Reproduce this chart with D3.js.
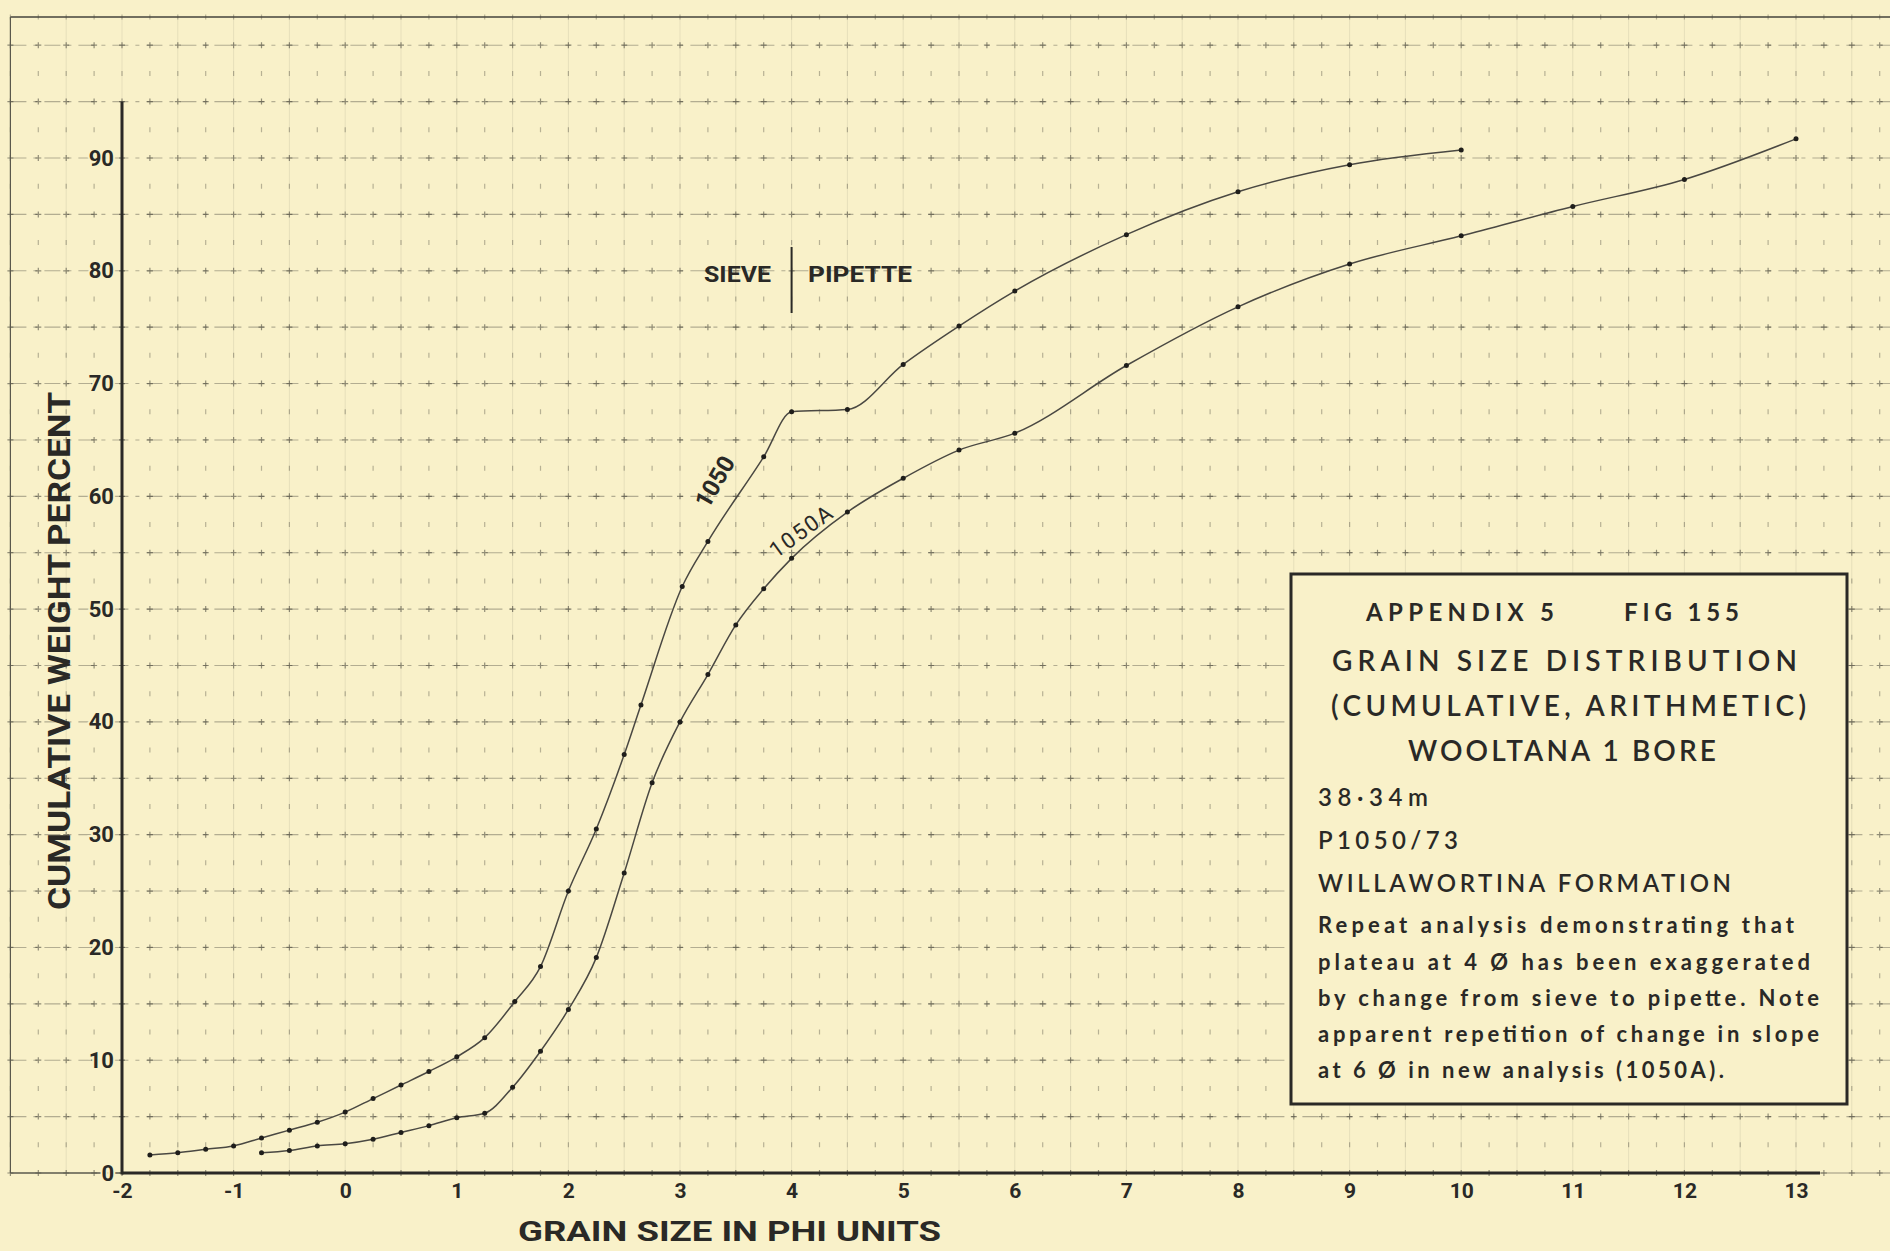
<!DOCTYPE html>
<html>
<head>
<meta charset="utf-8">
<script src="https://cdn.jsdelivr.net/npm/d3@7"></script>
<style>
  body { margin: 0; background: #f8f0c8; }
  svg { display: block; }
</style>
</head>
<body>
<svg id="chart"></svg>
<script>
// sample 1050 (sieve + pipette)
const phi1050 = [-1.75, -1.5, -1.25, -1, -0.75, -0.5, -0.25, 0, 0.25, 0.5, 0.75, 1, 1.25, 1.52, 1.75, 2, 2.25, 2.5, 2.65, 3.02, 3.25, 3.75, 4, 4.5, 5, 5.5, 6, 7, 8, 9, 10];
const pct1050 = [1.6, 1.8, 2.1, 2.4, 3.1, 3.8, 4.5, 5.4, 6.6, 7.8, 9.0, 10.3, 12.0, 15.2, 18.3, 25.0, 30.5, 37.1, 41.5, 52.0, 56.0, 63.5, 67.5, 67.7, 71.7, 75.1, 78.2, 83.2, 87.0, 89.4, 90.7];

// repeat analysis 1050A
const phi1050A = [-0.75, -0.5, -0.25, 0, 0.25, 0.5, 0.75, 1, 1.25, 1.5, 1.75, 2, 2.25, 2.5, 2.75, 3, 3.25, 3.5, 3.75, 4, 4.5, 5, 5.5, 6, 7, 8, 9, 10, 11, 12, 13];
const pct1050A = [1.8, 2.0, 2.4, 2.6, 3.0, 3.6, 4.2, 4.9, 5.3, 7.6, 10.8, 14.5, 19.1, 26.6, 34.6, 40.0, 44.2, 48.6, 51.8, 54.5, 58.6, 61.6, 64.1, 65.6, 71.6, 76.8, 80.6, 83.1, 85.7, 88.1, 91.7];

const xTicks = [-2, -1, 0, 1, 2, 3, 4, 5, 6, 7, 8, 9, 10, 11, 12, 13];
const yTicks = [0, 10, 20, 30, 40, 50, 60, 70, 80, 90];

const noteHeads = ['APPENDIX 5', 'FIG 155', 'GRAIN SIZE DISTRIBUTION', '(CUMULATIVE, ARITHMETIC)', 'WOOLTANA 1 BORE'];
const noteFacts = ['38·34m', 'P1050/73', 'WILLAWORTINA FORMATION'];
const noteText = [
  'Repeat analysis demonstrating that',
  'plateau at 4 Ø has been exaggerated',
  'by change from sieve to pipette. Note',
  'apparent repetition of change in slope',
  'at 6 Ø in new analysis (1050A).'
];

const W = 1890, H = 1251;
const bg = '#f9f1c9';
const ink = '#2a2926';

const svg = d3.select('#chart').attr('width', W).attr('height', H);
svg.append('rect').attr('width', W).attr('height', H).attr('fill', bg);

const x = d3.scaleLinear().domain([-2, 13]).range([122, 1796]);
const y = d3.scaleLinear().domain([0, 90]).range([1173, 158]);

const gridLeft = x(-3), gridTop = y(102.5);

// graph paper
const grid = svg.append('g');
grid.selectAll('line.v')
  .data(d3.range(-3, 13.8, 0.5))
  .enter().append('line')
  .attr('x1', d => x(d)).attr('x2', d => x(d))
  .attr('y1', gridTop).attr('y2', y(0))
  .attr('stroke', '#6f6c5c').attr('stroke-opacity', 0.13).attr('stroke-width', 1);

grid.selectAll('line.h')
  .data(d3.range(5, 101, 5))
  .enter().append('line')
  .attr('x1', gridLeft).attr('x2', W)
  .attr('y1', d => y(d)).attr('y2', d => y(d))
  .attr('stroke', '#5e5b4e').attr('stroke-opacity', 0.45).attr('stroke-width', 1.1)
  .attr('stroke-dasharray', '16 7 4 7');

const crosses = d3.path();
const dots = d3.path();
d3.range(-3, 13.8, 0.25).forEach(px => {
  d3.range(0, 102.6, 2.5).forEach(py => {
    const cx = x(px), cy = y(py);
    if (py % 5 === 0) {
      crosses.moveTo(cx - 3, cy); crosses.lineTo(cx + 3, cy);
      crosses.moveTo(cx, cy - 3); crosses.lineTo(cx, cy + 3);
    } else {
      dots.moveTo(cx, cy - 2.5); dots.lineTo(cx, cy + 2.5);
    }
  });
});
grid.append('path').attr('d', crosses.toString())
  .attr('stroke', '#3c3a32').attr('stroke-opacity', 0.55).attr('stroke-width', 1.2).attr('fill', 'none');
grid.append('path').attr('d', dots.toString())
  .attr('stroke', '#3c3a32').attr('stroke-opacity', 0.35).attr('stroke-width', 1.2).attr('fill', 'none');

// borders of the printed grid
grid.append('line').attr('x1', gridLeft).attr('x2', W).attr('y1', gridTop).attr('y2', gridTop)
  .attr('stroke', '#45433b').attr('stroke-width', 1.6);
grid.append('line').attr('x1', gridLeft).attr('x2', gridLeft).attr('y1', gridTop).attr('y2', y(0))
  .attr('stroke', '#5a584c').attr('stroke-width', 1.2);
grid.append('line').attr('x1', gridLeft).attr('x2', x(-2)).attr('y1', y(0)).attr('y2', y(0))
  .attr('stroke', '#5a584c').attr('stroke-width', 1.4);
grid.append('line').attr('x1', 1820).attr('x2', W).attr('y1', y(0)).attr('y2', y(0))
  .attr('stroke', '#5a584c').attr('stroke-opacity', 0.6).attr('stroke-width', 1.2);

// axes
const tickFont = '"Liberation Sans Narrow", "Roboto", "Liberation Sans", sans-serif';

const xAxis = svg.append('g')
  .attr('transform', `translate(0,${y(0)})`)
  .call(d3.axisBottom(x).tickValues(xTicks).tickSize(0).tickPadding(10).tickFormat(d => d));
xAxis.select('.domain').remove();
xAxis.selectAll('text')
  .attr('fill', ink).style('font-family', tickFont)
  .style('font-size', '21px').style('font-weight', 'bold');

const yAxis = svg.append('g')
  .attr('transform', `translate(${x(-2)},0)`)
  .call(d3.axisLeft(y).tickValues(yTicks).tickSize(0).tickPadding(8).tickFormat(d => d));
yAxis.select('.domain').remove();
yAxis.selectAll('text')
  .attr('fill', ink).style('font-family', tickFont)
  .style('font-size', '22px').style('font-weight', 'bold')
  .attr('stroke', bg).attr('stroke-width', 4).attr('paint-order', 'stroke');

svg.append('line').attr('x1', x(-2)).attr('x2', x(-2)).attr('y1', y(95)).attr('y2', y(0) + 1.5)
  .attr('stroke', ink).attr('stroke-width', 3);
svg.append('line').attr('x1', x(-2)).attr('x2', 1820).attr('y1', y(0)).attr('y2', y(0))
  .attr('stroke', ink).attr('stroke-width', 3.2);

// axis titles
svg.append('text')
  .attr('transform', 'translate(70,651) rotate(-90)')
  .attr('text-anchor', 'middle')
  .attr('textLength', 518).attr('lengthAdjust', 'spacingAndGlyphs')
  .attr('fill', ink).style('font-family', tickFont).style('font-size', '31px').style('font-weight', 'bold')
  .text('CUMULATIVE  WEIGHT  PERCENT');

svg.append('text')
  .attr('x', 518).attr('y', 1241)
  .attr('textLength', 423).attr('lengthAdjust', 'spacingAndGlyphs')
  .attr('fill', ink).style('font-family', tickFont).style('font-size', '28px').style('font-weight', 'bold')
  .text('GRAIN  SIZE  IN PHI UNITS');

// curves
const series = [
  { name: '1050', pts: phi1050.map((p, i) => [p, pct1050[i]]) },
  { name: '1050A', pts: phi1050A.map((p, i) => [p, pct1050A[i]]) }
];
const line = d3.line().x(d => x(d[0])).y(d => y(d[1])).curve(d3.curveMonotoneX);

series.forEach(s => {
  svg.append('path').datum(s.pts)
    .attr('d', line)
    .attr('fill', 'none').attr('stroke', '#4a4842').attr('stroke-width', 1.5);
  svg.append('g').selectAll('circle')
    .data(s.pts)
    .enter().append('circle')
    .attr('cx', d => x(d[0])).attr('cy', d => y(d[1]))
    .attr('r', 2.5).attr('fill', '#1f1e1b');
});

// curve labels
svg.append('text')
  .attr('transform', 'translate(722,486) rotate(-60)')
  .attr('text-anchor', 'middle')
  .attr('fill', ink).style('font-family', tickFont).style('font-size', '24px').style('font-weight', 'bold')
  .text('1050');
svg.append('text')
  .attr('transform', 'translate(806,537) rotate(-36)')
  .attr('text-anchor', 'middle').attr('letter-spacing', 2)
  .attr('fill', ink).style('font-family', tickFont).style('font-size', '22px')
  .text('1050A');

// sieve / pipette divider at 4 phi
svg.append('line').attr('x1', x(4)).attr('x2', x(4)).attr('y1', 247).attr('y2', 313)
  .attr('stroke', ink).attr('stroke-width', 2);
svg.append('text').attr('x', 704).attr('y', 282)
  .attr('textLength', 67).attr('lengthAdjust', 'spacingAndGlyphs')
  .attr('fill', ink).style('font-family', tickFont).style('font-size', '22px').style('font-weight', 'bold')
  .text('SIEVE');
svg.append('text').attr('x', 808).attr('y', 282)
  .attr('textLength', 104).attr('lengthAdjust', 'spacingAndGlyphs')
  .attr('fill', ink).style('font-family', tickFont).style('font-size', '22px').style('font-weight', 'bold')
  .text('PIPETTE');

// title box
const boxFont = 'Lato, "DejaVu Sans", sans-serif';
svg.append('rect')
  .attr('x', 1291).attr('y', 574).attr('width', 556).attr('height', 530)
  .attr('fill', bg).attr('stroke', ink).attr('stroke-width', 3);

function boxText(str, xPos, yPos, width, size, weight) {
  return svg.append('text')
    .attr('x', xPos).attr('y', yPos)
    .attr('textLength', width).attr('lengthAdjust', 'spacing')
    .attr('fill', ink).style('font-family', boxFont)
    .style('font-size', size + 'px').style('font-weight', weight)
    .text(str);
}

boxText(noteHeads[0], 1366, 621, 188, 24, 700);
boxText(noteHeads[1], 1624, 621, 115, 24, 700);
boxText(noteHeads[2], 1332, 671, 465, 28, 600);
boxText(noteHeads[3], 1331, 716, 475, 28, 600);
boxText(noteHeads[4], 1408, 761, 308, 28, 600);

[806, 849, 892].forEach((b, i) => {
  boxText(noteFacts[i], 1318, b, [110, 140, 413][i], 24, 600);
});

const textWidths = [476, 492, 501, 501, 406];
[933, 970, 1006, 1042, 1078].forEach((b, i) => {
  boxText(noteText[i], 1318, b, textWidths[i], 22, 700);
});
</script>
</body>
</html>
